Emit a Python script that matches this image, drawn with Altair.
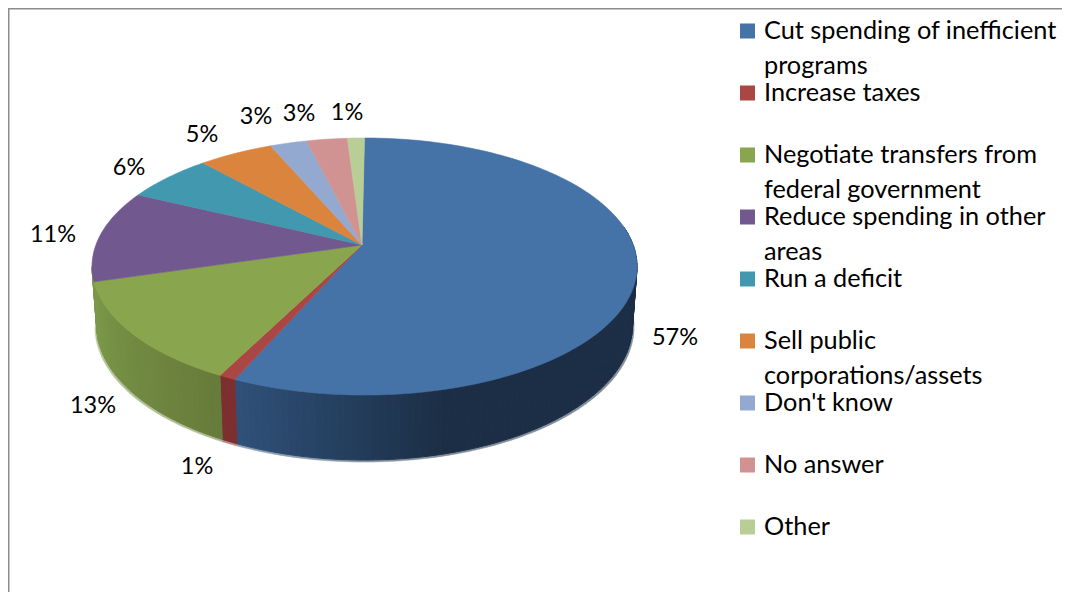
import math
import altair as alt
import pandas as pd

categories = ["Cut spending of inefficient programs", "Increase taxes",
              "Negotiate transfers from federal government", "Reduce spending in other areas",
              "Run a deficit", "Sell public corporations/assets", "Don't know", "No answer", "Other"]
legend_lines = [["Cut spending of inefficient", "programs"], ["Increase taxes"],
                ["Negotiate transfers from", "federal government"], ["Reduce spending in other", "areas"],
                ["Run a deficit"], ["Sell public", "corporations/assets"], ["Don't know"], ["No answer"], ["Other"]]
shares = [57.9, 1.0, 14.2, 11.3, 5.5, 4.5, 2.2, 2.4, 1.0]  # slice sizes as drawn in perspective
pct_labels = ["57%", "1%", "13%", "11%", "6%", "5%", "3%", "3%", "1%"]
pct_x = [675, 197, 93, 53, 129, 202, 256, 299, 347]
pct_y = [338, 467, 406, 235, 168, 135, 117, 114, 113]
colors = ["#4572A7", "#AA4643", "#89A54E", "#71588F", "#4198AF", "#DB843D", "#93A9CF", "#D19392", "#B9CD96"]

FONT = "Lato"
TOP = (364.5, 266.5, 272.5, 128.5)
BOTTOM = (364.5, 325.0, 268.0, 135.0)
APEX = (362.0, 245.0)


def rim(ell, t):
    cx, cy, rx, ry = ell
    r = math.radians(t)
    return cx + rx * math.sin(r), cy - ry * math.cos(r)


def mix(a, b, f):
    a = [int(a[i:i + 2], 16) for i in (1, 3, 5)]
    b = [int(b[i:i + 2], 16) for i in (1, 3, 5)]
    return "#" + "".join(f"{round(p + (q - p) * f):02x}" for p, q in zip(a, b))


def wall_color(i, t):
    if i == 0:
        f = min(1, max(0, (208 - t) / 45))
        return mix("#2f5179", "#1b2e45", f)
    if i == 1:
        return "#7c2f2e"
    f = min(1, max(0, (263 - t) / 52))
    return mix("#7b9948", "#667a39", f)


edges = [0.0]
for s in shares:
    edges.append(edges[-1] + s * 3.6)

# side wall, one strip per step along the rim
wall, fringe = [], []
STEP = 1.5
sid = 0
for i, (a, b) in enumerate(zip(edges[:-1], edges[1:])):
    if a > 270:
        break
    t = max(a, 72.0)
    while t < min(b, 270):
        e = min(t + STEP, b, 270)
        c = wall_color(i, (t + e) / 2)
        pts = [rim(TOP, t), rim(TOP, e), rim(BOTTOM, e), rim(BOTTOM, t)]
        for k, (x, y) in enumerate(pts):
            wall.append(dict(sid=sid, k=k, x=x, y=y, c=c))
        p2 = [rim(BOTTOM, t), rim(BOTTOM, e),
              (rim(BOTTOM, e)[0] + 1.5 * math.sin(math.radians(e)), rim(BOTTOM, e)[1] + 2.0),
              (rim(BOTTOM, t)[0] + 1.5 * math.sin(math.radians(t)), rim(BOTTOM, t)[1] + 2.0)]
        for k, (x, y) in enumerate(p2):
            fringe.append(dict(sid=sid, k=k, x=x, y=y, c=mix(c, "#ffffff", 0.45)))
        sid += 1
        t = e

# top face
face = []
for i, (a, b) in enumerate(zip(edges[:-1], edges[1:])):
    face.append(dict(cat=categories[i], k=0, x=APEX[0], y=APEX[1]))
    n = max(2, int((b - a) / 1.0))
    for j in range(n + 1):
        x, y = rim(TOP, a + (b - a) * j / n)
        face.append(dict(cat=categories[i], k=j + 1, x=x, y=y))

legend_y0, legend_dy = 31, 62.0
sw, lt = [], []
for i, (cat, lines) in enumerate(zip(categories, legend_lines)):
    y = legend_y0 + i * legend_dy
    sw.append(dict(cat=cat, x=747.5, y=y))
    for j, line in enumerate(lines):
        lt.append(dict(text=line, x=764, y=y + j * 34.5))

X = alt.Scale(domain=[8, 1062], nice=False, zero=False)
Y = alt.Scale(domain=[592, 8], nice=False, zero=False)
xe = alt.X("x:Q", scale=X, axis=None)
ye = alt.Y("y:Q", scale=Y, axis=None)
cat_scale = alt.Scale(domain=categories, range=colors)


def strips(rows, width):
    return alt.Chart(pd.DataFrame(rows)).mark_line(interpolate="linear-closed", strokeWidth=width).encode(
        x=xe, y=ye, order="k:Q", detail="sid:N",
        fill=alt.Fill("c:N", scale=None), stroke=alt.Stroke("c:N", scale=None))


fringe_l = strips(fringe, 0.5)
wall_l = strips(wall, 1)
face_l = alt.Chart(pd.DataFrame(face)).mark_line(interpolate="linear-closed", strokeWidth=0.6).encode(
    x=xe, y=ye, order="k:Q", detail="cat:N",
    fill=alt.Fill("cat:N", scale=cat_scale, legend=None),
    stroke=alt.Stroke("cat:N", scale=cat_scale, legend=None))

pct_df = pd.DataFrame(dict(text=pct_labels, x=pct_x, y=pct_y))
pct_l = alt.Chart(pct_df).mark_text(font=FONT, fontSize=23.5, color="#000000", align="center", baseline="middle").encode(
    x=xe, y=ye, text="text:N")
sw_l = alt.Chart(pd.DataFrame(sw)).mark_square(size=225, opacity=1, filled=True).encode(
    x=xe, y=ye, color=alt.Color("cat:N", scale=cat_scale, legend=None))
lt_l = alt.Chart(pd.DataFrame(lt)).mark_text(font=FONT, fontSize=25.3, color="#000000", align="left", baseline="middle").encode(
    x=xe, y=ye, text="text:N")
frame_df = pd.DataFrame(dict(x=[8, 8, 1062], y=[592, 8, 8], k=[0, 1, 2]))
frame_l = alt.Chart(frame_df).mark_line(color="#8c8c8c", strokeWidth=3).encode(x=xe, y=ye, order="k:Q")

chart = alt.layer(frame_l, fringe_l, wall_l, face_l, pct_l, sw_l, lt_l).resolve_scale(
    fill="independent", stroke="independent", color="independent"
).properties(width=1054, height=584, padding=0,
             autosize=alt.AutoSizeParams(type="none", contains="content")).configure_view(stroke=None)

chart.save("out.html", embed_options={"renderer": "svg", "actions": False})
